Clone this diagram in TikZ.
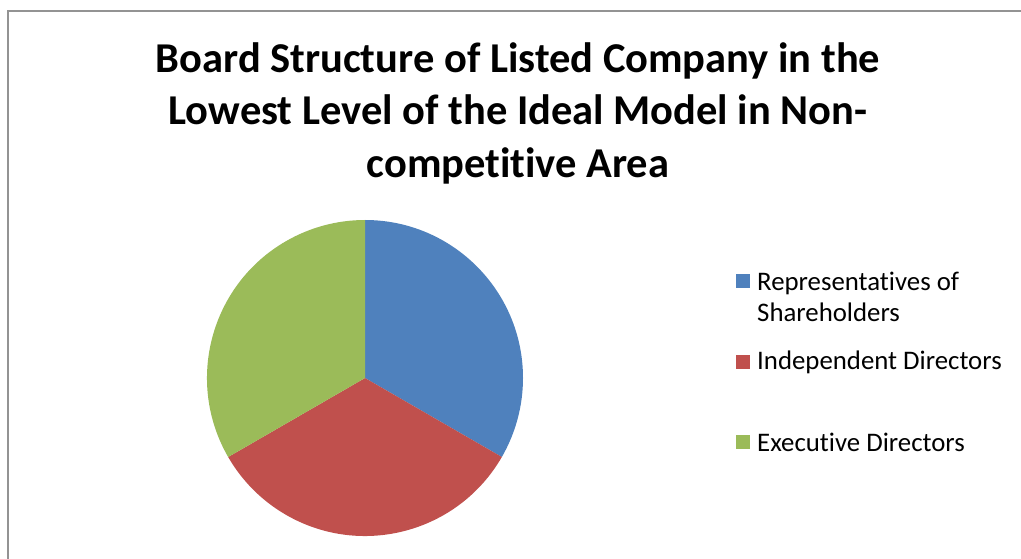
\documentclass[tikz,border=0pt]{standalone}
\usepackage{fontspec}
\setmainfont{Carlito}[Ligatures=NoCommon]
\usepackage{tikz}

\definecolor{sharecol}{HTML}{4F81BD}
\definecolor{indepcol}{HTML}{C0504D}
\definecolor{execcol}{HTML}{9BBB59}

\begin{document}
\begin{tikzpicture}[x=1pt,y=1pt,
  legtext/.style={anchor=west,inner sep=0pt,align=left,font=\fontsize{26.8}{31}\selectfont},
  legkey/.style={minimum size=14pt,inner sep=0pt}]

\useasboundingbox (0,0) rectangle (1021,558);
\clip (0,0) rectangle (1021,558);
\draw[line width=2pt,gray!85] (8,-20) -- (8,547) -- (1040,547);

% title
\node[align=center,font=\bfseries\fontsize{42.5}{52.5}\selectfont] (title) at (518,445)
  {Board Structure of Listed Company in the\\Lowest Level of the Ideal Model in Non-\\competitive Area};

% pie
\coordinate (c) at (365,180);
\fill[sharecol] (c) -- ++(90:158) arc (90:-30:158) -- cycle;
\fill[indepcol] (c) -- ++(-30:158) arc (-30:-150:158) -- cycle;
\fill[execcol] (c) -- ++(210:158) arc (210:90:158) -- cycle;

% legend
\node[legkey,fill=sharecol] (k1) at (743,277) {};
\node[legkey,fill=indepcol] (k2) at (743,196) {};
\node[legkey,fill=execcol] (k3) at (743,116) {};
\node[legtext] (l1) at (757,261.5) {Representatives of\\Shareholders};
\node[legtext] (l2) at (757,196) {Independent Directors};
\node[legtext] (l3) at (757,116) {Executive Directors};

\end{tikzpicture}
\end{document}
